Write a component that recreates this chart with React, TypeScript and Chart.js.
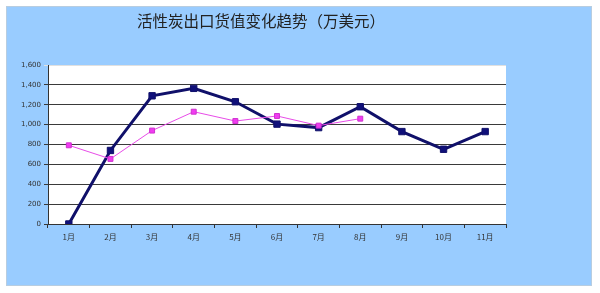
import React, { useEffect, useRef } from "react";
import { Chart, registerables } from "chart.js";

Chart.register(...registerables);

const months = ["1月", "2月", "3月", "4月", "5月", "6月", "7月", "8月", "9月", "10月", "11月"];
const seriesA = [0, 740, 1290, 1365, 1230, 1005, 970, 1180, 930, 752, 930];
const seriesB = [792, 655, 940, 1130, 1036, 1087, 990, 1060];
const yTicks = [0, 200, 400, 600, 800, 1000, 1200, 1400, 1600];
const titleText = "活性炭出口货值变化趋势（万美元）";

const bgPlugin = {
  id: "bgPlugin",
  beforeDraw(chart: any) {
    const { ctx, chartArea } = chart;
    ctx.save();
    ctx.fillStyle = "#ffffff";
    ctx.fillRect(0, 0, chart.width, chart.height);
    ctx.fillStyle = "#99CCFF";
    ctx.fillRect(6, 6, 586, 280);
    ctx.strokeStyle = "#b8cde0";
    ctx.lineWidth = 1;
    ctx.strokeRect(6.5, 6.5, 585, 279);
    ctx.fillStyle = "#ffffff";
    ctx.fillRect(chartArea.left, chartArea.top, chartArea.right - chartArea.left, chartArea.bottom - chartArea.top);
    ctx.restore();
  },
};

export default function App() {
  const ref = useRef<HTMLCanvasElement>(null);
  useEffect(() => {
    if (!ref.current) return;
    const chart = new Chart(ref.current, {
      type: "line",
      data: {
        labels: months,
        datasets: [
          {
            data: seriesB,
            borderColor: "#E84CE8",
            backgroundColor: "#F03CF0",
            borderWidth: 1,
            pointStyle: "rect",
            pointRadius: 3.5,
            pointBorderColor: "#D030D0",
            pointBorderWidth: 1,
            tension: 0,
          },
          {
            data: seriesA,
            borderColor: "#10106A",
            backgroundColor: "#10107A",
            borderWidth: 3,
            pointStyle: "rect",
            pointRadius: 4.5,
            pointBorderColor: "#10106A",
            pointBorderWidth: 1,
            tension: 0,
          },
        ],
      },
      options: {
        responsive: false,
        animation: false,
        layout: { padding: { left: 16, right: 94, top: 7, bottom: 29 } },
        plugins: {
          legend: { display: false },
          tooltip: { enabled: false },
          title: {
            display: true,
            text: titleText,
            color: "#222",
            font: { family: "'Noto Sans CJK SC'", size: 15.5, weight: "normal", lineHeight: 1.2 },
            padding: { top: 5, bottom: 34.4 },
          },
        },
        scales: {
          x: {
            offset: true,
            afterFit(scale: any) {
              scale.height = 40;
            },
            grid: {
              offset: true,
              drawOnChartArea: false,
              drawTicks: true,
              tickLength: 4,
              color: "#333",
            },
            border: { display: true, color: "#333", width: 1 },
            ticks: {
              color: "#333",
              padding: 4,
              maxRotation: 0,
              font: { family: "'Noto Sans CJK SC'", size: 8 },
            },
          },
          y: {
            min: 0,
            max: 1600,
            afterFit(scale: any) {
              scale.width = 32;
            },
            afterBuildTicks(scale: any) {
              scale.ticks = yTicks.map((v) => ({ value: v }));
            },
            grid: {
              color: (c: any) => (c.tick && c.tick.value === 1600 ? "#e0e0e0" : "#3a3a3a"),
              lineWidth: 1,
              tickLength: 4,
            },
            border: { display: true, color: "#333", width: 1 },
            ticks: {
              color: "#333",
              padding: 3,
              font: { family: "'DejaVu Sans'", size: 7 },
              callback: (v: any) => Number(v).toLocaleString("en-US"),
            },
          },
        },
      },
      plugins: [bgPlugin],
    });
    return () => chart.destroy();
  }, []);
  return (
    <div style={{ position: "absolute", left: 0, top: 0, width: 600, height: 293 }}>
      <canvas ref={ref} width={600} height={293} />
    </div>
  );
}
